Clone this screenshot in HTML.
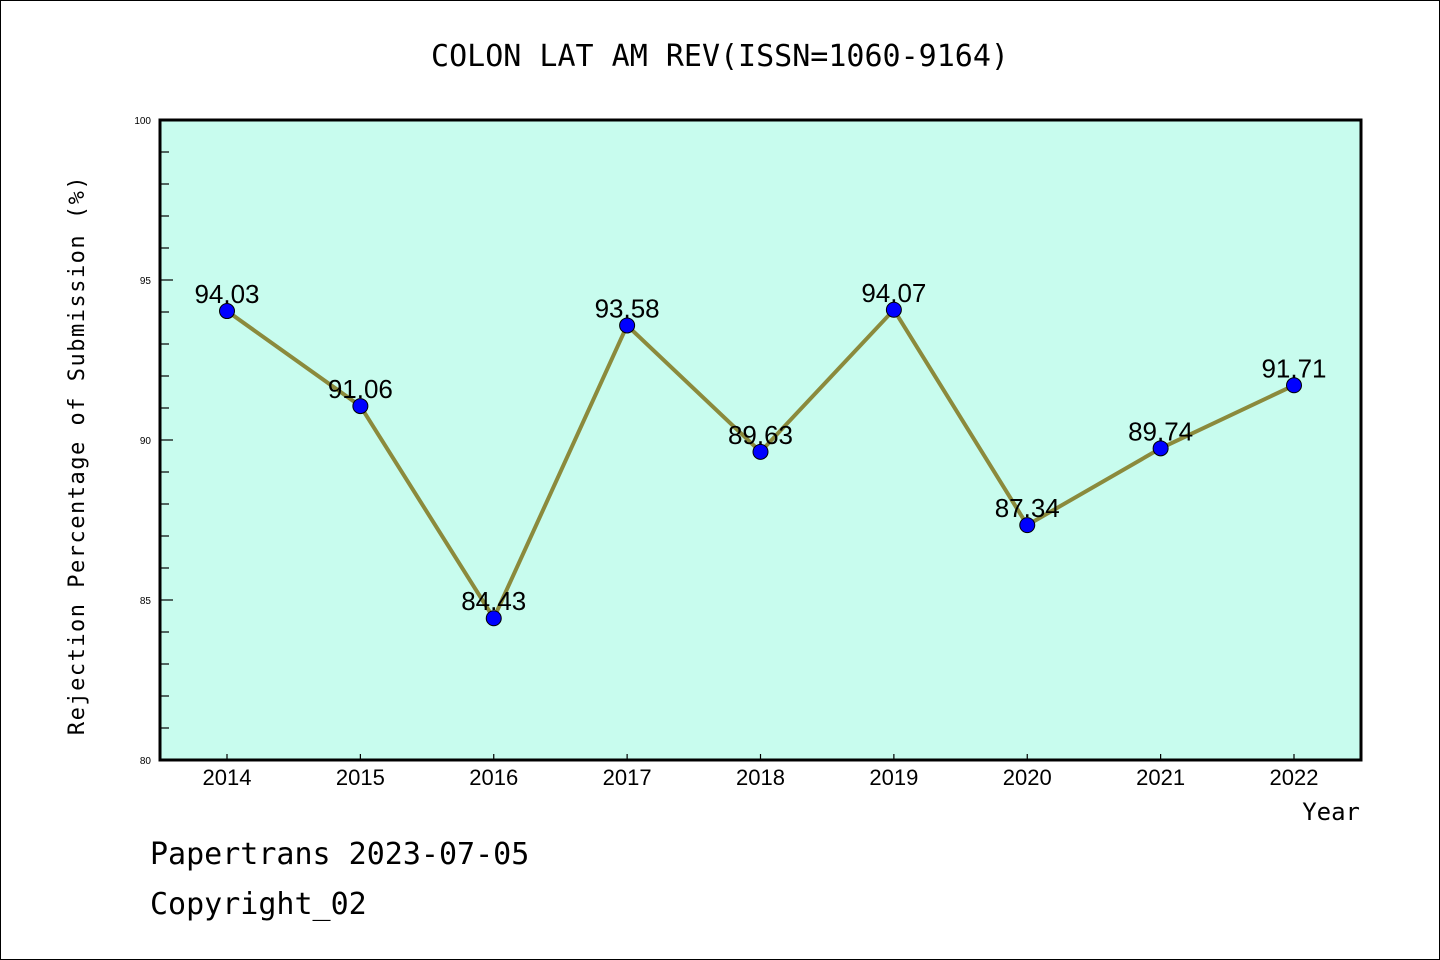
<!DOCTYPE html>
<html><head><meta charset="utf-8"><style>
body{margin:0;background:#fff}
svg{display:block;font-family:"Liberation Sans","WenQuanYi Zen Hei",sans-serif}
.mono{font-family:"DejaVu Sans Mono","Liberation Mono",monospace}
</style></head><body>
<svg id="c" width="1440" height="960">
<rect x="0.5" y="0.5" width="1439" height="959" fill="#fff" stroke="#000"/>
<text class="mono" x="720" y="66" font-size="30" text-anchor="middle">COLON LAT AM REV(ISSN=1060-9164)</text>
<rect x="160" y="120" width="1201" height="640" fill="#c8fcee"/>
<g id="axes"></g>
<g id="series"></g>
<rect x="160" y="120" width="1201" height="640" fill="none" stroke="#000" stroke-width="3"/>
<text class="mono" transform="translate(84,455) rotate(-90)" font-size="22" text-anchor="middle" letter-spacing="1.5">Rejection Percentage of Submission (%)</text>
<text class="mono" x="1360" y="820" font-size="24" text-anchor="end">Year</text>
<text class="mono" x="150" y="864" font-size="30">Papertrans 2023-07-05</text>
<text class="mono" x="150" y="914" font-size="30">Copyright_02</text>
</svg>
<script>
const years=["2014","2015","2016","2017","2018","2019","2020","2021","2022"];
const values=[94.03,91.06,84.43,93.58,89.63,94.07,87.34,89.74,91.71];
const yTicks=[80,85,90,95,100];
const NS="http://www.w3.org/2000/svg";
const x0=227,x1=1294,yMin=80,yMax=100,yTop=120,yBot=760;
const xs=i=>x0+(x1-x0)*i/(years.length-1);
const ys=v=>yBot-(v-yMin)/(yMax-yMin)*(yBot-yTop);
function mk(t,a,p){const e=document.createElementNS(NS,t);for(const k in a)e.setAttribute(k,a[k]);p.appendChild(e);return e;}
const ax=document.getElementById('axes'),se=document.getElementById('series');
for(let v=yMin;v<=yMax;v++){
  const major=(v%5===0);
  const l=mk('line',{x1:160,x2:major?173:169,y1:ys(v),y2:ys(v),stroke:'#000','stroke-width':1.2},ax);
  
  
}
yTicks.forEach(v=>{
  const t=mk('text',{x:151,y:ys(v)+4,'font-size':10,'text-anchor':'end'},ax);t.textContent=v;
  
  
});
years.forEach((y,i)=>{
  const l=mk('line',{x1:xs(i),x2:xs(i),y1:760,y2:754,stroke:'#000','stroke-width':1.2},ax);
  
  
  const t=mk('text',{x:xs(i),y:785,'font-size':22,'text-anchor':'middle'},ax);t.textContent=y;
  
  
});
const pl=mk('polyline',{points:values.map((v,i)=>xs(i)+','+ys(v)).join(' '),fill:'none',stroke:'#8b8a3c','stroke-width':4,'stroke-linejoin':'round'},se);


values.forEach((v,i)=>{
  const c=mk('circle',{cx:xs(i),cy:ys(v),r:7.5,fill:'#0000ff',stroke:'#000','stroke-width':1},se);
  
  
  const t=mk('text',{x:xs(i),y:ys(v)-8,'font-size':26,'text-anchor':'middle'},se);t.textContent=v.toFixed(2);
  
  
});
</script>
</body></html>
